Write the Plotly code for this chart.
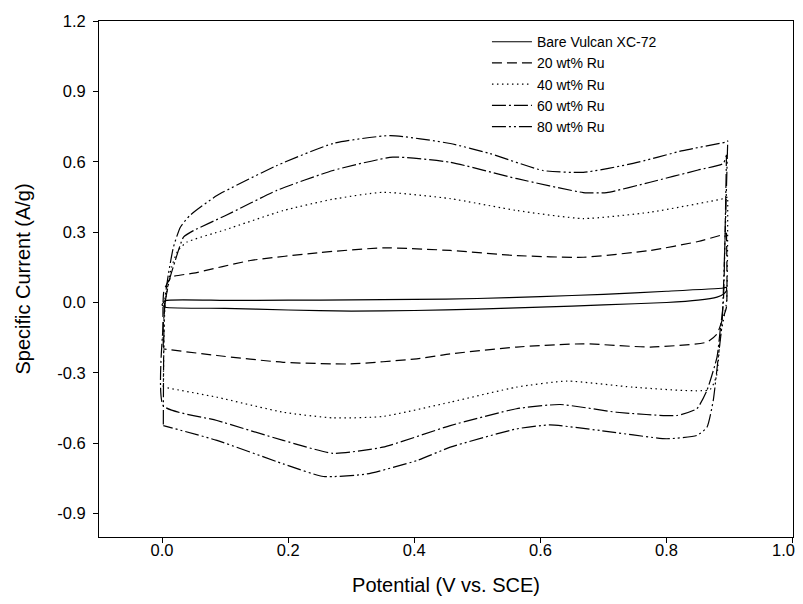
import plotly.graph_objects as go

# ---- data ----
bare_up_x = [0.0, 0.005, 0.1, 0.2, 0.3, 0.4, 0.5, 0.6, 0.7, 0.8, 0.89, 0.895]
bare_up_y = [-0.01, 0.008, 0.009, 0.010, 0.011, 0.013, 0.017, 0.025, 0.035, 0.048, 0.062, 0.065]
bare_dn_x = [0.895, 0.89, 0.88, 0.85, 0.8, 0.7, 0.6, 0.5, 0.4, 0.3, 0.2, 0.1, 0.005, 0.0]
bare_dn_y = [0.05, 0.035, 0.023, 0.01, 0.0, -0.01, -0.02, -0.028, -0.034, -0.037, -0.032, -0.025, -0.02, -0.01]

ru20_up_x = [0.002, 0.003, 0.015, 0.05, 0.14, 0.25, 0.351, 0.457, 0.563, 0.668, 0.774, 0.85, 0.885, 0.895]
ru20_up_y = [-0.19, 0.05, 0.108, 0.125, 0.179, 0.213, 0.233, 0.222, 0.200, 0.193, 0.222, 0.26, 0.286, 0.295]
ru20_dn_x = [0.895, 0.895, 0.888, 0.88, 0.864, 0.774, 0.668, 0.562, 0.457, 0.404, 0.298, 0.192, 0.087, 0.002]
ru20_dn_y = [0.295, -0.02, -0.077, -0.134, -0.169, -0.19, -0.176, -0.19, -0.219, -0.24, -0.262, -0.255, -0.226, -0.198]

ru40_up_x = [0.002, 0.005, 0.015, 0.025, 0.039, 0.1, 0.192, 0.27, 0.35, 0.457, 0.563, 0.668, 0.774, 0.89, 0.897]
ru40_up_y = [-0.36, 0.0, 0.15, 0.22, 0.257, 0.31, 0.392, 0.44, 0.47, 0.443, 0.392, 0.358, 0.385, 0.443, 0.45]
ru40_dn_x = [0.897, 0.895, 0.885, 0.88, 0.869, 0.747, 0.642, 0.562, 0.457, 0.35, 0.271, 0.192, 0.087, 0.002]
ru40_dn_y = [0.45, 0.0, -0.148, -0.304, -0.371, -0.361, -0.335, -0.361, -0.425, -0.486, -0.492, -0.468, -0.404, -0.361]

ru60_up_x = [0.002, 0.005, 0.012, 0.021, 0.034, 0.05, 0.1, 0.182, 0.271, 0.366, 0.457, 0.563, 0.668, 0.705, 0.774, 0.85, 0.89, 0.895]
ru60_up_y = [-0.44, 0.0, 0.1, 0.18, 0.279, 0.307, 0.37, 0.478, 0.563, 0.62, 0.598, 0.528, 0.469, 0.469, 0.513, 0.565, 0.593, 0.63]
ru60_dn_x = [0.895, 0.89, 0.885, 0.88, 0.864, 0.848, 0.816, 0.721, 0.631, 0.562, 0.457, 0.35, 0.271, 0.192, 0.087, 0.002]
ru60_dn_y = [0.63, 0.0, -0.12, -0.233, -0.375, -0.453, -0.482, -0.468, -0.435, -0.453, -0.525, -0.617, -0.643, -0.588, -0.503, -0.44]

ru80_up_x = [0.002, 0.004, 0.01, 0.018, 0.029, 0.044, 0.087, 0.182, 0.271, 0.362, 0.457, 0.52, 0.604, 0.668, 0.747, 0.826, 0.893, 0.897]
ru80_up_y = [-0.52, 0.0, 0.12, 0.236, 0.321, 0.371, 0.456, 0.584, 0.678, 0.712, 0.678, 0.635, 0.563, 0.555, 0.593, 0.648, 0.684, 0.69]
ru80_dn_x = [0.897, 0.893, 0.888, 0.882, 0.874, 0.864, 0.848, 0.8, 0.695, 0.615, 0.562, 0.457, 0.404, 0.325, 0.256, 0.192, 0.087, 0.002]
ru80_dn_y = [0.69, 0.3, -0.09, -0.233, -0.418, -0.532, -0.567, -0.581, -0.546, -0.522, -0.539, -0.617, -0.674, -0.731, -0.742, -0.688, -0.588, -0.525]

series_names = ["Bare Vulcan XC-72", "20 wt% Ru", "40 wt% Ru", "60 wt% Ru", "80 wt% Ru"]
x_ticks = [0.0, 0.2, 0.4, 0.6, 0.8, 1.0]
y_ticks = [-0.9, -0.6, -0.3, 0.0, 0.3, 0.6, 0.9, 1.2]

# ---- figure ----
curves = [
    (bare_up_x + bare_dn_x, bare_up_y + bare_dn_y, "solid"),
    (ru20_up_x + ru20_dn_x, ru20_up_y + ru20_dn_y, "10px,5px"),
    (ru40_up_x + ru40_dn_x, ru40_up_y + ru40_dn_y, "1.5px,3.5px"),
    (ru60_up_x + ru60_dn_x, ru60_up_y + ru60_dn_y, "14px,3px,2px,3px"),
    (ru80_up_x + ru80_dn_x, ru80_up_y + ru80_dn_y, "14px,3px,2px,3px,2px,3px"),
]

fig = go.Figure()
for name, (xs, ys, dash) in zip(series_names, curves):
    fig.add_trace(go.Scatter(
        x=xs, y=ys, mode="lines", name=name,
        line=dict(color="black", width=1.2, dash=dash, shape="spline", smoothing=0.5),
    ))

# last x label padded on the right so it stays inside the page edge
x_ticktext = [f"{v:.1f}" for v in x_ticks]
x_ticktext[-1] = x_ticktext[-1] + "\u2007\u2007"

font_family = "Liberation Sans, Arial, sans-serif"
# the page body adds an 8px margin, so the figure is shrunk and margins shifted to compensate
fig.update_layout(
    width=787, height=588,
    margin=dict(l=91, r=2, t=13, b=59, autoexpand=False),
    paper_bgcolor="white", plot_bgcolor="white",
    font=dict(family=font_family, color="black", size=16),
    showlegend=True,
    legend=dict(
        x=0.559, y=0.99, xanchor="left", yanchor="top",
        bgcolor="rgba(0,0,0,0)", borderwidth=0,
        font=dict(size=14, family=font_family, color="black"),
        tracegroupgap=0, itemwidth=40,
    ),
)
fig.update_xaxes(
    range=[-0.1, 1.0005], tickvals=x_ticks, ticktext=x_ticktext,
    showgrid=False, zeroline=False, showline=True, linecolor="black", linewidth=1,
    mirror=True, ticks="outside", ticklen=5, tickcolor="black",
    automargin=False, ticklabeloverflow="allow", ticklabelstandoff=-7,
    title=dict(text="Potential (V vs. SCE)", font=dict(size=20), standoff=26),
    tickfont=dict(size=16.5),
)
fig.update_yaxes(
    range=[-1.0, 1.2005], tickvals=y_ticks, ticktext=[f"{v:.1f}" for v in y_ticks],
    showgrid=False, zeroline=False, showline=True, linecolor="black", linewidth=1,
    mirror=True, ticks="outside", ticklen=5, tickcolor="black",
    automargin=False, ticklabeloverflow="allow", ticklabelstandoff=4,
    title=dict(text="Specific Current (A/g)", font=dict(size=20), standoff=21),
    tickfont=dict(size=16.5),
)

fig.write_html("out.html")
